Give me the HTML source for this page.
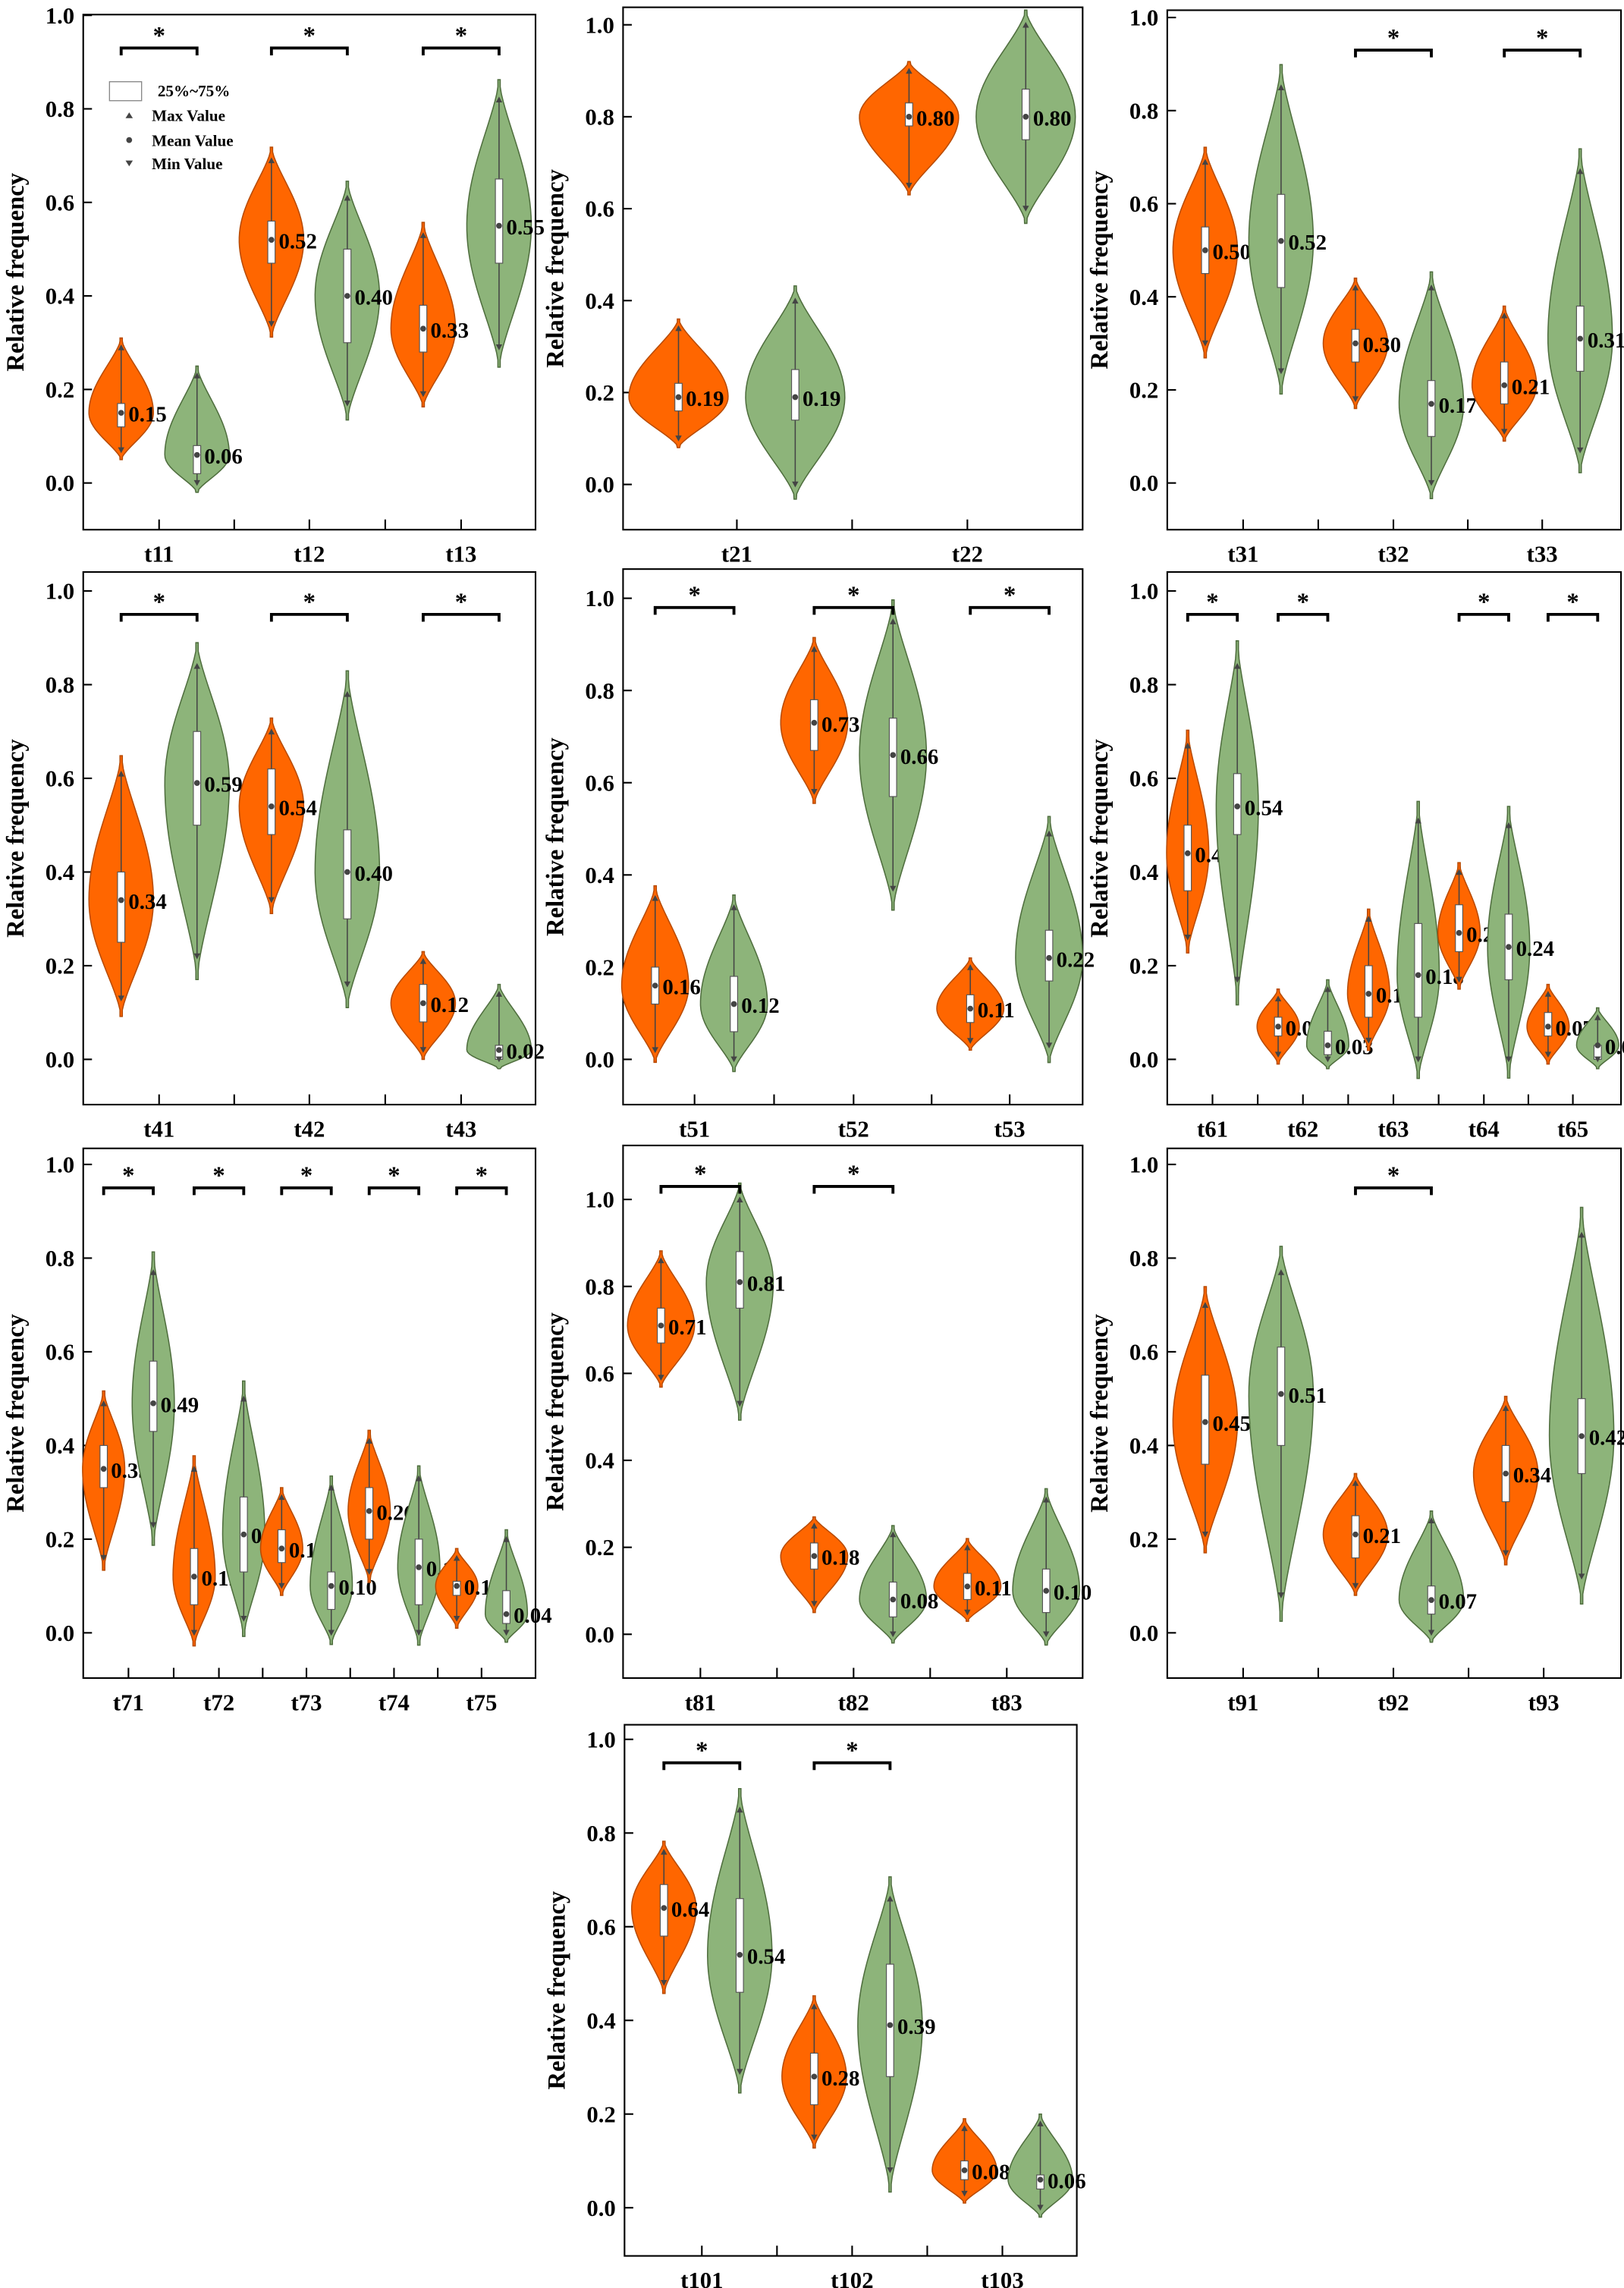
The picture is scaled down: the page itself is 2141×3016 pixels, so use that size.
<!DOCTYPE html>
<html><head><meta charset="utf-8"><style>
html,body{margin:0;padding:0;background:#fff}
svg{display:block}
text{font-family:"Liberation Serif",serif;font-weight:bold;fill:#000}
</style></head><body>
<svg id="chart" width="2141" height="3016" viewBox="0 0 1113 1568" xmlns="http://www.w3.org/2000/svg"></svg>
<script>
// ---- data ----
const p1Cats=["t11","t12","t13"];
const p1Mean=[[.15,.06],[.52,.40],[.33,.55]];
const p1Min=[[.07,0],[.34,.17],[.19,.29]];
const p1Max=[[.29,.23],[.69,.61],[.53,.82]];
const p1Q1=[[.12,.02],[.47,.30],[.28,.47]];
const p1Q3=[[.17,.08],[.56,.50],[.38,.65]];
const p1Sig=[1,1,1];

const p2Cats=["t21","t22"];
const p2Mean=[[.19,.19],[.80,.80]];
const p2Min=[[.10,0],[.65,.60]];
const p2Max=[[.34,.40],[.90,1.0]];
const p2Q1=[[.16,.14],[.78,.75]];
const p2Q3=[[.22,.25],[.83,.86]];
const p2Sig=[0,0];

const p3Cats=["t31","t32","t33"];
const p3Mean=[[.50,.52],[.30,.17],[.21,.31]];
const p3Min=[[.30,.24],[.18,0],[.11,.07]];
const p3Max=[[.69,.85],[.42,.42],[.36,.67]];
const p3Q1=[[.45,.42],[.26,.10],[.17,.24]];
const p3Q3=[[.55,.62],[.33,.22],[.26,.38]];
const p3Sig=[0,1,1];

const p4Cats=["t41","t42","t43"];
const p4Mean=[[.34,.59],[.54,.40],[.12,.02]];
const p4Min=[[.13,.22],[.34,.16],[.02,0]];
const p4Max=[[.61,.84],[.70,.78],[.21,.14]];
const p4Q1=[[.25,.50],[.48,.30],[.08,0]];
const p4Q3=[[.40,.70],[.62,.49],[.16,.03]];
const p4Sig=[1,1,1];

const p5Cats=["t51","t52","t53"];
const p5Mean=[[.16,.12],[.73,.66],[.11,.22]];
const p5Min=[[.02,0],[.58,.37],[.04,.03]];
const p5Max=[[.35,.33],[.89,.95],[.20,.49]];
const p5Q1=[[.12,.06],[.67,.57],[.08,.17]];
const p5Q3=[[.20,.18],[.78,.74],[.14,.28]];
const p5Sig=[1,1,1];

const p6Cats=["t61","t62","t63","t64","t65"];
const p6Mean=[[.44,.54],[.07,.03],[.14,.18],[.27,.24],[.07,.03]];
const p6Min=[[.26,.17],[.01,0],[.04,0],[.17,0],[.01,0]];
const p6Max=[[.67,.84],[.13,.15],[.30,.51],[.40,.50],[.14,.09]];
const p6Q1=[[.36,.48],[.05,.01],[.09,.09],[.23,.17],[.05,0]];
const p6Q3=[[.50,.61],[.09,.06],[.20,.29],[.33,.31],[.10,.03]];
const p6Sig=[1,1,0,1,1];

const p7Cats=["t71","t72","t73","t74","t75"];
const p7Mean=[[.35,.49],[.12,.21],[.18,.10],[.26,.14],[.10,.04]];
const p7Min=[[.16,.23],[0,.03],[.10,0],[.13,0],[.03,0]];
const p7Max=[[.49,.77],[.35,.50],[.29,.31],[.41,.33],[.16,.20]];
const p7Q1=[[.31,.43],[.06,.13],[.15,.05],[.20,.06],[.08,.02]];
const p7Q3=[[.40,.58],[.18,.29],[.22,.13],[.31,.20],[.11,.09]];
const p7Sig=[1,1,1,1,1];

const p8Cats=["t81","t82","t83"];
const p8Mean=[[.71,.81],[.18,.08],[.11,.10]];
const p8Min=[[.59,.53],[.07,0],[.05,0]];
const p8Max=[[.86,1.0],[.25,.23],[.20,.31]];
const p8Q1=[[.67,.75],[.15,.04],[.08,.05]];
const p8Q3=[[.75,.88],[.21,.12],[.14,.15]];
const p8Sig=[1,1,0];

const p9Cats=["t91","t92","t93"];
const p9Mean=[[.45,.51],[.21,.07],[.34,.42]];
const p9Min=[[.21,.08],[.10,0],[.17,.12]];
const p9Max=[[.70,.77],[.32,.24],[.48,.85]];
const p9Q1=[[.36,.40],[.16,.04],[.28,.34]];
const p9Q3=[[.55,.61],[.25,.10],[.40,.50]];
const p9Sig=[0,1,0];

const p10Cats=["t101","t102","t103"];
const p10Mean=[[.64,.54],[.28,.39],[.08,.06]];
const p10Min=[[.48,.29],[.15,.08],[.03,0]];
const p10Max=[[.76,.85],[.43,.66],[.17,.18]];
const p10Q1=[[.58,.46],[.22,.28],[.06,.04]];
const p10Q3=[[.69,.66],[.33,.52],[.10,.07]];
const p10Sig=[1,1,0];

const yTicks=[0,0.2,0.4,0.6,0.8,1.0];
const yTickLabels=["0.0","0.2","0.4","0.6","0.8","1.0"];

// ---- layout ----
const panels=[
 {id:1,L:57,R:367,T:10,B:363,y0:331,y1:10.5,gx:[109,212,316],off:26,br:.93,d:[p1Cats,p1Mean,p1Min,p1Max,p1Q1,p1Q3,p1Sig],legend:true},
 {id:2,L:427,R:742,T:5,B:363,y0:332,y1:17,gx:[505,663],off:40,br:0,d:[p2Cats,p2Mean,p2Min,p2Max,p2Q1,p2Q3,p2Sig]},
 {id:3,L:800,R:1111,T:7,B:363,y0:331,y1:12,gx:[852,955,1057],off:26,br:.93,d:[p3Cats,p3Mean,p3Min,p3Max,p3Q1,p3Q3,p3Sig]},
 {id:4,L:57,R:367,T:392,B:757,y0:726,y1:405,gx:[109,212,316],off:26,br:.95,d:[p4Cats,p4Mean,p4Min,p4Max,p4Q1,p4Q3,p4Sig]},
 {id:5,L:427,R:742,T:390,B:757,y0:726,y1:410,gx:[476,585,692],off:27,br:.98,d:[p5Cats,p5Mean,p5Min,p5Max,p5Q1,p5Q3,p5Sig]},
 {id:6,L:800,R:1111,T:392,B:757,y0:726,y1:405,gx:[831,893,955,1017,1078],off:17,br:.95,d:[p6Cats,p6Mean,p6Min,p6Max,p6Q1,p6Q3,p6Sig]},
 {id:7,L:57,R:367,T:787,B:1150,y0:1119,y1:798,gx:[88,150,210,270,330],off:17,br:.95,d:[p7Cats,p7Mean,p7Min,p7Max,p7Q1,p7Q3,p7Sig]},
 {id:8,L:427,R:742,T:785,B:1150,y0:1120,y1:822,gx:[480,585,690],off:27,br:1.03,d:[p8Cats,p8Mean,p8Min,p8Max,p8Q1,p8Q3,p8Sig]},
 {id:9,L:800,R:1111,T:787,B:1150,y0:1119,y1:798,gx:[852,955,1058],off:26,br:.95,d:[p9Cats,p9Mean,p9Min,p9Max,p9Q1,p9Q3,p9Sig]},
 {id:10,L:428,R:738,T:1182,B:1546,y0:1513,y1:1192,gx:[481,584,687],off:26,br:.95,d:[p10Cats,p10Mean,p10Min,p10Max,p10Q1,p10Q3,p10Sig]}
];
const NS="http://www.w3.org/2000/svg";
const svg=document.getElementById('chart');
function mk(tag,attrs,parent,txt){const e=document.createElementNS(NS,tag);for(const k in attrs)e.setAttribute(k,attrs[k]);if(txt!==undefined)e.textContent=txt;(parent||svg).appendChild(e);return e;}
const fills=["#FF6600","#8DB47A"],strokes=["#B84A00","#4F6E3E"];

panels.forEach(p=>{
 const [cats,mean,mn,mx,q1,q3,sig]=p.d;
 const g=mk('g',{});
 
 
 const y=v=>p.y0+(p.y1-p.y0)*v;
 const fr=mk('rect',{x:p.L,y:p.T,width:p.R-p.L,height:p.B-p.T,fill:'none',stroke:'#000','stroke-width':1.1},g);
 
 
 yTicks.forEach((t,i)=>{
  mk('line',{x1:p.L,x2:p.L+6,y1:y(t),y2:y(t),stroke:'#000','stroke-width':1.1},g);
  const tl=mk('text',{x:p.L-6,y:y(t)+5.5,'text-anchor':'end','font-size':16},g,yTickLabels[i]);
  
  
 });
 const yt=mk('text',{x:0,y:0,'text-anchor':'middle','font-size':17,transform:`translate(${p.L-41},${(p.T+p.B)/2}) rotate(-90)`},g,'Relative frequency');
 
 
 const W=p.off*0.85;
 cats.forEach((c,i)=>{
  const gx=p.gx[i];
  mk('line',{x1:gx,x2:gx,y1:p.B,y2:p.B-7,stroke:'#000','stroke-width':1.1},g);
  if(i<cats.length-1){const mx2=(gx+p.gx[i+1])/2;mk('line',{x1:mx2,x2:mx2,y1:p.B,y2:p.B-7,stroke:'#000','stroke-width':1.1},g);}
  const xl=mk('text',{x:gx,y:p.B+22,'text-anchor':'middle','font-size':16},g,c);
  
  
  for(let s=0;s<2;s++){
   const cx=gx+(s?p.off:-p.off);
   const m=mean[i][s],a=mn[i][s],b=mx[i][s];
   const pad=Math.max(0.02,(b-a)*0.08);
   const lo=a-pad,hi=b+pad,tp=Math.min(0.8,Math.max(0.2,(m-lo)/(hi-lo)));
   const N=40,R=[],Lp=[];
   for(let k=0;k<=N;k++){
    const t=k/N;const ss=t<tp?t/tp:(1-t)/(1-tp);
    const w=Math.max(0.8,W*Math.pow(Math.sin(ss*Math.PI/2),1.4));
    const yy=y(lo+(hi-lo)*t);
    R.push((cx+w).toFixed(2)+','+yy.toFixed(2));
    Lp.unshift((cx-w).toFixed(2)+','+yy.toFixed(2));
   }
   const v=mk('polygon',{points:R.concat(Lp).join(' '),fill:fills[s],stroke:strokes[s],'stroke-width':0.8},g);
   
   
   mk('line',{x1:cx,x2:cx,y1:y(a),y2:y(b),stroke:'#444','stroke-width':0.8},g);
   const bx=mk('rect',{x:cx-2.5,y:y(q3[i][s]),width:5,height:Math.max(1,y(q1[i][s])-y(q3[i][s])),fill:'#fff',stroke:'#555','stroke-width':0.6},g);
   
   
   mk('circle',{cx:cx,cy:y(m),r:2,fill:'#444'},g);
   mk('polygon',{points:`${cx-2.2},${y(b)+2} ${cx+2.2},${y(b)+2} ${cx},${y(b)-2}`,fill:'#444'},g);
   mk('polygon',{points:`${cx-2.2},${y(a)-2} ${cx+2.2},${y(a)-2} ${cx},${y(a)+2}`,fill:'#444'},g);
   const ml=mk('text',{x:cx+5,y:y(m)+6,'font-size':15},g,m.toFixed(2));
   
   
  }
  if(sig[i]&&p.br){
   const by=y(p.br),x1=gx-p.off,x2=gx+p.off;
   const br=mk('path',{d:`M${x1},${by+5}V${by}H${x2}V${by+5}`,fill:'none',stroke:'#000','stroke-width':2},g);
   
   
   const st=mk('text',{x:gx,y:by-3,'text-anchor':'middle','font-size':17,'font-weight':'normal'},g,'*');
   
   
  }
 });
 if(p.legend){
  const lg=mk('g',{},g);
  
  
  mk('rect',{x:75,y:56,width:22,height:13,fill:'#fff',stroke:'#888','stroke-width':0.7},lg);
  mk('text',{x:108,y:66,'font-size':11},lg,'25%~75%');
  mk('polygon',{points:'86,81 91,81 88.5,77',fill:'#444'},lg);
  mk('text',{x:104,y:83,'font-size':11},lg,'Max Value');
  mk('circle',{cx:88.5,cy:96,r:2,fill:'#444'},lg);
  mk('text',{x:104,y:100,'font-size':11},lg,'Mean Value');
  mk('polygon',{points:'86,110 91,110 88.5,114',fill:'#444'},lg);
  mk('text',{x:104,y:116,'font-size':11},lg,'Min Value');
 }
});
</script>
</body></html>
